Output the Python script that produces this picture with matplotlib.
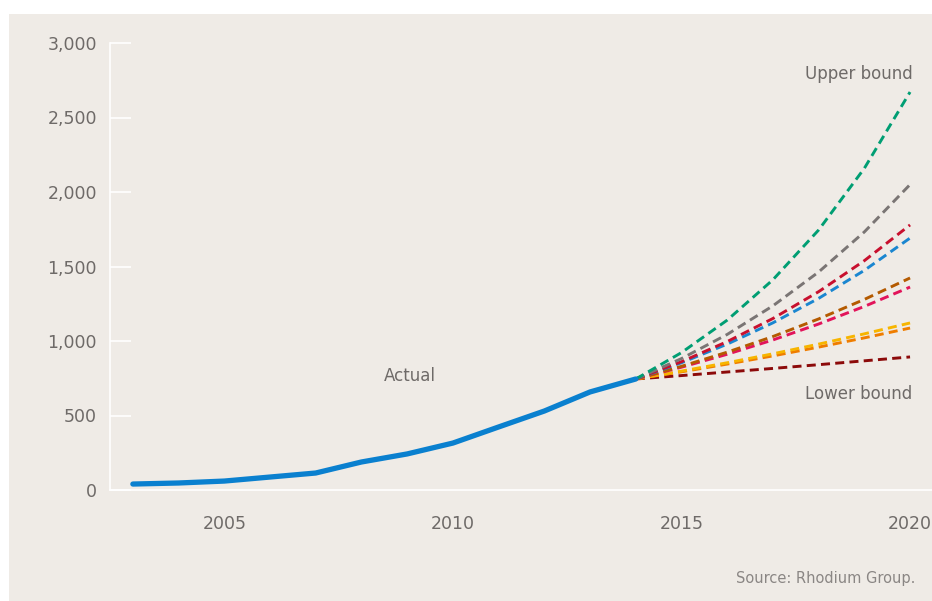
import matplotlib.pyplot as plt
from matplotlib.patches import Rectangle

# ─── Data ──────────────────────────────────────────────────────────────
actual_years = [2003, 2004, 2005, 2006, 2007, 2008, 2009, 2010, 2011, 2012, 2013, 2014]
actual_vals = [40, 47, 60, 87, 114, 188, 242, 315, 423, 530, 658, 745]

proj_years = [2014, 2015, 2016, 2017, 2018, 2019, 2020]
proj_green = [745, 922, 1140, 1411, 1745, 2159, 2671]
proj_gray = [745, 882, 1044, 1236, 1463, 1732, 2050]
proj_red = [745, 861, 996, 1151, 1331, 1539, 1779]
proj_blue = [745, 854, 979, 1122, 1286, 1474, 1691]
proj_brown = [745, 830, 925, 1030, 1148, 1279, 1423]
proj_pink = [745, 824, 911, 1007, 1114, 1232, 1362]
proj_yellow = [745, 798, 854, 914, 979, 1048, 1121]
proj_orange = [745, 793, 845, 900, 959, 1021, 1087]
proj_darkred = [745, 768, 792, 816, 841, 867, 893]

projections = [
    (proj_darkred, "#8c0a0a"),
    (proj_orange, "#ef7d00"),
    (proj_yellow, "#f7b500"),
    (proj_pink, "#e2145a"),
    (proj_brown, "#b45a00"),
    (proj_blue, "#1a86d0"),
    (proj_red, "#c8102e"),
    (proj_gray, "#7a7574"),
    (proj_green, "#009e73"),
]

x_ticks = [2005, 2010, 2015, 2020]
y_ticks = [0, 500, 1000, 1500, 2000, 2500, 3000]
y_labels = ["0", "500", "1,000", "1,500", "2,000", "2,500", "3,000"]

BG = "#efebe6"
TXT = "#6e6a68"

# ─── Plot ──────────────────────────────────────────────────────────────
fig = plt.figure(figsize=(9.32, 6.01), dpi=100)
fig.patch.set_facecolor("white")
fig.patches.append(Rectangle((9 / 932, 0), 1, 1 - 14 / 601,
                             transform=fig.transFigure, facecolor=BG,
                             edgecolor="none", zorder=-10))

ax = fig.add_axes([110 / 932, 1 - 490 / 601, (932 - 110) / 932, (490 - 43) / 601])
ax.set_facecolor(BG)
ax.set_xlim(2002.5, 2020.48)
ax.set_ylim(0, 3000)

for vals, col in projections:
    ax.plot(proj_years, vals, color=col, lw=2.1, dashes=(3.1, 1.8), zorder=2)

ax.plot(actual_years, actual_vals, color="#0a80cf", lw=3.8,
        solid_capstyle="round", zorder=3)

for s in ["top", "right"]:
    ax.spines[s].set_visible(False)
for s in ["left", "bottom"]:
    ax.spines[s].set_color("white")
    ax.spines[s].set_linewidth(1.2)

ax.set_yticks(y_ticks)
ax.set_yticklabels(y_labels)
ax.set_xticks(x_ticks)
ax.tick_params(axis="y", direction="in", length=15, width=1.2, color="white",
               labelsize=12.5, labelcolor=TXT, pad=9.5)
ax.tick_params(axis="x", length=0, labelsize=12.5, labelcolor=TXT, pad=18)

ax.text(2009.05, 765, "Actual", color=TXT, fontsize=12, ha="center", va="center")
ax.text(2020.05, 2792, "Upper bound", color=TXT, fontsize=12, ha="right", va="center")
ax.text(2020.05, 644, "Lower bound", color=TXT, fontsize=12, ha="right", va="center")

fig.text(915 / 932, 1 - 579 / 601, "Source: Rhodium Group.", color="#8a8684",
         fontsize=10.5, ha="right", va="center")

fig.savefig("out.png", dpi=100, facecolor=fig.get_facecolor())
